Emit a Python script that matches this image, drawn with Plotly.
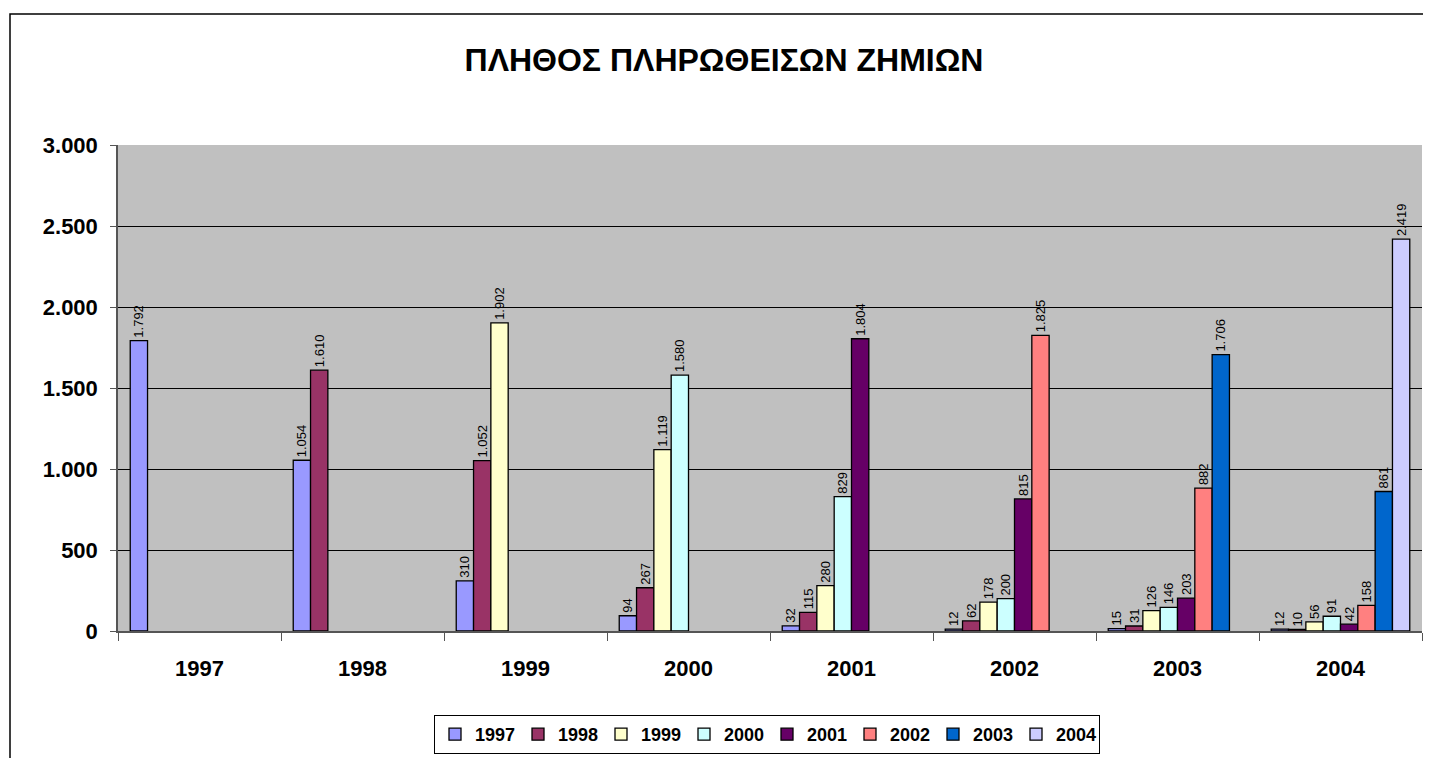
import plotly.graph_objects as go

categories = ["1997", "1998", "1999", "2000", "2001", "2002", "2003", "2004"]
series_names = ["1997", "1998", "1999", "2000", "2001", "2002", "2003", "2004"]
s1997 = [1792, 1054, 310, 94, 32, 12, 15, 12]
s1998 = [None, 1610, 1052, 267, 115, 62, 31, 10]
s1999 = [None, None, 1902, 1119, 280, 178, 126, 56]
s2000 = [None, None, None, 1580, 829, 200, 146, 91]
s2001 = [None, None, None, None, 1804, 815, 203, 42]
s2002 = [None, None, None, None, None, 1825, 882, 158]
s2003 = [None, None, None, None, None, None, 1706, 861]
s2004 = [None, None, None, None, None, None, None, 2419]
series_values = [s1997, s1998, s1999, s2000, s2001, s2002, s2003, s2004]
colors = ["#9999FF", "#993366", "#FFFFCC", "#CCFFFF", "#660066", "#FF8080", "#0066CC", "#CCCCFF"]

FONT = "Liberation Sans, Arial, sans-serif"

fig = go.Figure()
for name, vals, col in zip(series_names, series_values, colors):
    fig.add_trace(go.Bar(
        x=categories, y=vals, name=name,
        marker=dict(color=col, line=dict(color="black", width=1.3)),
        texttemplate="%{y:,}", textposition="outside", textangle=-90,
        textfont=dict(family=FONT, size=13, color="black"),
        constraintext="none", cliponaxis=False,
    ))

# figure is drawn offset by the 8px page margin
OFF = 8
W, H = 1431 - OFF, 758 - OFF
L, T = 118 - OFF, 145 - OFF
R = W - (1422 - OFF)
B = H - (631 - OFF)
pw, ph = W - L - R, H - T - B


def px_x(p):
    return (p - OFF - L) / pw


def px_y(p):
    return (H - B - (p - OFF)) / ph


fig.update_layout(
    width=W, height=H,
    margin=dict(l=L, r=R, t=T, b=B, autoexpand=False),
    paper_bgcolor="white", plot_bgcolor="#C0C0C0",
    separators=",.",
    barmode="group", bargap=0.15, bargroupgap=0,
    font=dict(family=FONT, color="black"),
    title=dict(text="<b>ΠΛΗΘΟΣ ΠΛΗΡΩΘΕΙΣΩΝ ΖΗΜΙΩΝ</b>", x=(724 - OFF) / W, xanchor="center",
               y=1 - (60 - OFF) / H, yanchor="middle", xref="container", yref="container",
               font=dict(family=FONT, size=32, color="black")),
    showlegend=True,
    legend=dict(orientation="h", xref="container", yref="container",
                x=(767 - OFF) / W, xanchor="center", y=1 - (715 - OFF) / H, yanchor="top",
                bordercolor="black", borderwidth=1, bgcolor="white",
                font=dict(family=FONT, size=18, color="black", weight="bold"),
                itemwidth=30, entrywidth=38, entrywidthmode="pixels", tracegroupgap=0),
    xaxis=dict(showline=True, linecolor="#555555", linewidth=1.5,
               ticks="outside", ticklen=8, tickcolor="#555555", tickson="boundaries",
               tickfont=dict(family=FONT, size=22, color="black", weight="bold"),
               ticklabelstandoff=17, showgrid=False),
    yaxis=dict(range=[0, 3000], dtick=500, tickformat=",",
               showline=True, linecolor="#555555", linewidth=1.5,
               ticks="outside", ticklen=6, tickcolor="#555555",
               tickfont=dict(family=FONT, size=22, color="black", weight="bold"),
               ticklabelstandoff=8,
               showgrid=True, gridcolor="black", gridwidth=1, zeroline=False),
    shapes=[dict(type="rect", xref="paper", yref="paper",
                 x0=px_x(10), x1=px_x(1431 + 40), y0=px_y(758 + 40), y1=px_y(14),
                 line=dict(color="black", width=1.5), fillcolor="rgba(0,0,0,0)", layer="below")],
)

fig.write_html("out.html")
